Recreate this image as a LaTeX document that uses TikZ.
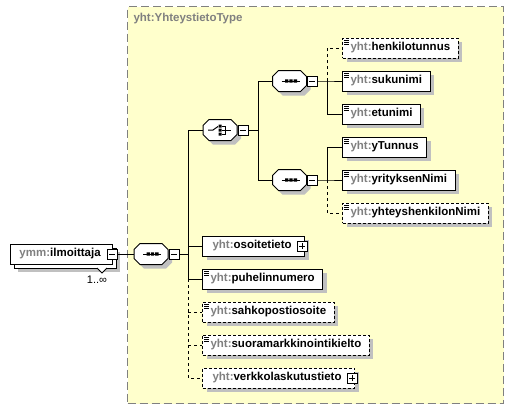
\documentclass[tikz,border=0pt]{standalone}
\usepackage{fontspec}
\setmainfont{Liberation Sans}
\usetikzlibrary{shadows}
\definecolor{bgyellow}{HTML}{FFFFCC}
\definecolor{pfx}{HTML}{808080}
\definecolor{shd}{HTML}{C0C0C0}
\definecolor{framegray}{HTML}{808080}
\newcommand\pf{\textcolor{pfx}{yht:}}
\newcommand\elicon[1]{\draw[line width=0.8pt] ([shift={(2,2.5)}]#1.north west) -- ++(5,0) ([shift={(2,4.5)}]#1.north west) -- ++(5,0) ([shift={(2,6.5)}]#1.north west) -- ++(5,0);}
\newcommand\compshape[1]{%
 \fill[shd,shift={(#1.center)},xshift=4pt,yshift=-4pt] (-17,-4.5) -- (-11,-10.5) -- (11,-10.5) -- (17,-4.5) -- (17,4.5) -- (11,10.5) -- (-11,10.5) -- (-17,4.5) -- cycle;
 \draw[fill=white,shift={(#1.center)}] (-17,-4.5) -- (-11,-10.5) -- (11,-10.5) -- (17,-4.5) -- (17,4.5) -- (11,10.5) -- (-11,10.5) -- (-17,4.5) -- cycle;}
\newcommand\seqicon[1]{%
 \draw[shift={(#1.center)}] (-8,0) -- (10,0);
 \fill[shift={(#1.center)}] (-4.5,-1.7) rectangle (-1.1,1.7) (-0.2,-1.7) rectangle (3.2,1.7) (4.1,-1.7) rectangle (7.5,1.7);}
\newcommand\choiceicon[1]{%
 \draw[shift={(#1.center)}] (-12,0) -- (-7,0) -- (-2,-3.5);
 \fill[shift={(#1.center)}] (-1.5,-5.5) rectangle (1.5,-2.5) (-1.5,-1.5) rectangle (1.5,1.5) (-1.5,2.5) rectangle (1.5,5.5);
 \draw[shift={(#1.center)}] (1.5,-4) -- (5,-4) -- (5,4) -- (1.5,4) (1.5,0) -- (11,0);}
\begin{document}
\begin{tikzpicture}[x=1pt,y=-1pt, line width=1pt,
 elembase/.style={draw=black, fill=white, minimum height=20pt, inner xsep=8pt, inner ysep=0pt, anchor=west, font=\fontsize{11.5}{13}\selectfont\bfseries},
 elem/.style={elembase, general shadow={fill=shd, shadow xshift=4pt, shadow yshift=-4pt}},
 optel/.style={elem, dash pattern=on 3pt off 2pt},
 comp/.style={minimum width=34pt, minimum height=21pt, inner sep=0pt},
 pmbox/.style={draw=black, fill=white, minimum size=10pt, inner sep=0pt, line width=0.8pt},
 minusbox/.style={pmbox, path picture={\draw[line width=0.8pt] ([xshift=2pt]path picture bounding box.west) -- ([xshift=-2pt]path picture bounding box.east);}},
 plusbox/.style={pmbox, path picture={\draw[line width=0.8pt] ([xshift=2pt]path picture bounding box.west) -- ([xshift=-2pt]path picture bounding box.east) ([yshift=2pt]path picture bounding box.south) -- ([yshift=-2pt]path picture bounding box.north);}},
 optconn/.style={dash pattern=on 3pt off 3pt}]
\useasboundingbox (0,0) rectangle (514,410);
\fill[white] (0,0) rectangle (514,410);
% type box
\node[draw=framegray, dash pattern=on 8pt off 4pt, fill=bgyellow, anchor=north west, minimum width=376pt, minimum height=397pt, inner sep=0pt] (tbox) at (127,6) {};
\node[anchor=west, text=pfx, font=\fontsize{11.5}{13}\selectfont\bfseries, inner sep=0pt] (title) at (133,19) {yht:YhteystietoType};
% ilmoittaja (multiple)
\fill[shd] (18,252) rectangle (120,272);
\draw[fill=white] (14,248) rectangle (116,268);
\node[elembase, inner xsep=0pt, minimum width=102pt] (ilm) at (10,254) {\hspace{9pt}\textcolor{pfx}{ymm:}ilmoittaja\hspace{12pt}\null};
\node[minusbox] (ilmm) at ([xshift=-1pt]ilm.east) {};
\draw[fill=white, line width=0.8pt] (97,268) -- (102,273) -- (107,268);
\node[font=\fontsize{11}{13}\selectfont, inner sep=0pt] (mult) at (97,280) {1..∞};
% compositors
\node[comp] (mseq) at (151,254) {};
\compshape{mseq}\seqicon{mseq}
\node[minusbox, anchor=west] (mseqm) at (mseq.east) {};
\node[comp] (ch) at (220,130) {};
\compshape{ch}\choiceicon{ch}
\node[minusbox, anchor=west] (chm) at (ch.east) {};
\node[comp] (seqa) at (289.5,81) {};
\compshape{seqa}\seqicon{seqa}
\node[minusbox, anchor=west] (seqam) at (seqa.east) {};
\node[comp] (seqb) at (289.5,180) {};
\compshape{seqb}\seqicon{seqb}
\node[minusbox, anchor=west] (seqbm) at (seqb.east) {};
% elements
\node[optel] (hk) at (342,48) {\pf henkilotunnus};
\node[elem] (su) at (342,81) {\pf sukunimi};
\node[elem] (et) at (342,114) {\pf etunimi};
\node[elem] (yt) at (342,147) {\pf yTunnus};
\node[elem] (yn) at (342,180) {\pf yrityksenNimi};
\node[optel] (yh) at (342,213) {\pf yhteyshenkilonNimi};
\node[elem] (os) at (202,246) {\hspace{2pt}\pf osoitetieto\hspace{5pt}\null};
\node[plusbox] (osp) at ([xshift=-3pt]os.east) {};
\node[elem] (pu) at (202,279) {\pf puhelinnumero};
\node[optel] (sa) at (202,312) {\pf sahkopostiosoite};
\node[optel] (so) at (202,345) {\pf suoramarkkinointikielto};
\node[optel] (ve) at (202,378) {\hspace{2pt}\pf verkkolaskutustieto\hspace{5pt}\null};
\node[plusbox] (vep) at ([xshift=-3pt]ve.east) {};
\foreach \n in {hk,su,et,yt,yn,yh,pu,sa,so} {\elicon{\n}}
% connectors
\coordinate (t1) at (188,254);
\coordinate (t2) at (258,130);
\coordinate (t3) at (327,81);
\coordinate (t4) at (327,180);
\draw (ilmm.east) -- (mseq.west);
\draw (mseqm.east) -- (t1);
\draw (t1 |- ch.west) -- (ch.west);
\draw (t1 |- ch.west) -- (t1 |- pu.west) -- (pu.west);
\draw (t1 |- os.west) -- (os.west);
\draw[optconn] (t1 |- pu.west) -- (t1 |- ve.west) -- (ve.west);
\draw[optconn] (t1 |- sa.west) -- (sa.west);
\draw[optconn] (t1 |- so.west) -- (so.west);
\draw (chm.east) -- (t2);
\draw (t2 |- seqa.west) -- (seqa.west);
\draw (t2 |- seqa.west) -- (t2 |- seqb.west) -- (seqb.west);
\draw (seqam.east) -- (t3) -- (su.west);
\draw (t3) -- (t3 |- et.west) -- (et.west);
\draw[optconn] (t3) -- (t3 |- hk.west) -- (hk.west);
\draw (seqbm.east) -- (t4) -- (yn.west);
\draw (t4) -- (t4 |- yt.west) -- (yt.west);
\draw[optconn] (t4) -- (t4 |- yh.west) -- (yh.west);
\end{tikzpicture}
\end{document}
